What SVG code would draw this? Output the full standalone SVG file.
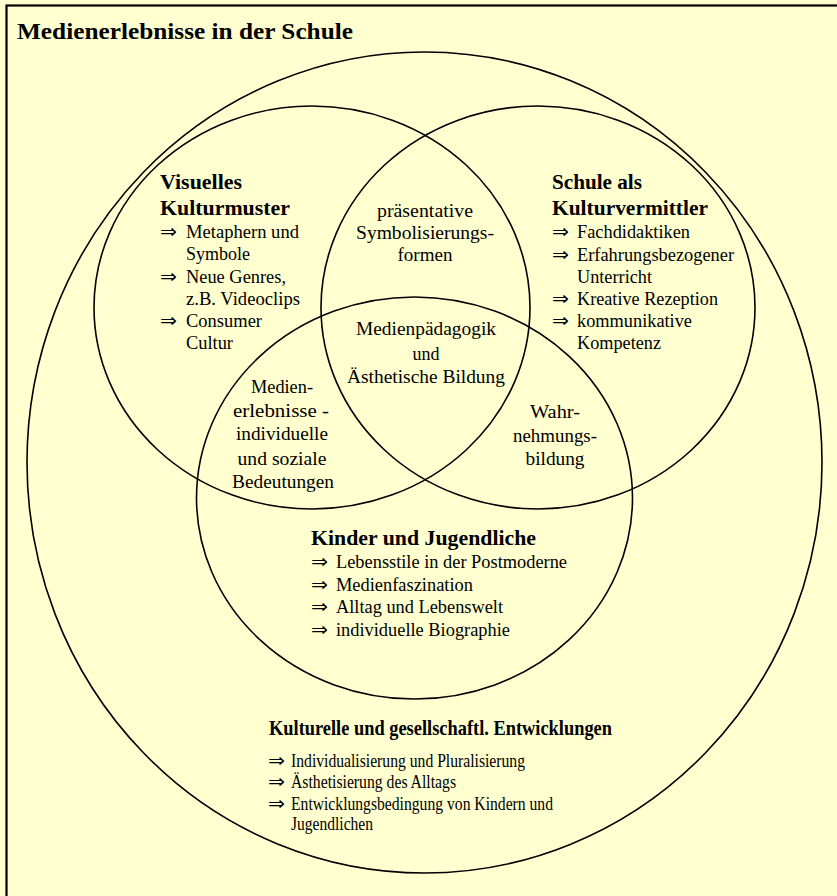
<svg xmlns="http://www.w3.org/2000/svg" width="837" height="896" viewBox="0 0 837 896">
<style>
.bg{fill:#FFFFD0}
.frame{fill:none;stroke:#000;stroke-width:2.2}
.ring{fill:none;stroke:#000;stroke-width:1.6}
text{font-family:"Liberation Serif","Times New Roman",serif;fill:#000}
.t{font-size:24px;font-weight:bold}
.h{font-size:20px;font-weight:bold}
.h2{font-size:21px;font-weight:bold}
.r{font-size:18.5px}
.s{font-size:19px}
.c{text-anchor:middle}
.a{font-family:"DejaVu Sans","Liberation Sans",sans-serif;font-size:19px}
</style>
<rect class="bg" x="0" y="0" width="837" height="896"/>
<rect class="frame" x="6.5" y="5.5" width="900" height="900"/>
<g id="title">
<text class="t" x="17" y="39" textLength="336" lengthAdjust="spacingAndGlyphs">Medienerlebnisse in der Schule</text>
</g>
<g id="gesellschaft">
<ellipse class="ring" cx="424.5" cy="462.5" rx="397.5" ry="410.5"/>
<text class="h2" x="269" y="735" textLength="343" lengthAdjust="spacingAndGlyphs">Kulturelle und gesellschaftl. Entwicklungen</text>
<text class="a" x="268" y="767" textLength="17" lengthAdjust="spacingAndGlyphs">⇒</text>
<text class="s" x="291" y="767" textLength="234" lengthAdjust="spacingAndGlyphs">Individualisierung und Pluralisierung</text>
<text class="a" x="268" y="788" textLength="17" lengthAdjust="spacingAndGlyphs">⇒</text>
<text class="s" x="291" y="788" textLength="165" lengthAdjust="spacingAndGlyphs">Ästhetisierung des Alltags</text>
<text class="a" x="268" y="810" textLength="17" lengthAdjust="spacingAndGlyphs">⇒</text>
<text class="s" x="291" y="810" textLength="262" lengthAdjust="spacingAndGlyphs">Entwicklungsbedingung von Kindern und</text>
<text class="s" x="291" y="830" textLength="82" lengthAdjust="spacingAndGlyphs">Jugendlichen</text>
</g>
<g id="visuelles">
<ellipse class="ring" cx="312" cy="307.5" rx="218" ry="201.5"/>
<text class="h" x="160" y="189" textLength="82" lengthAdjust="spacingAndGlyphs">Visuelles</text>
<text class="h" x="160" y="215" textLength="130" lengthAdjust="spacingAndGlyphs">Kulturmuster</text>
<text class="a" x="160" y="238" textLength="17" lengthAdjust="spacingAndGlyphs">⇒</text>
<text class="r" x="186" y="238" textLength="113" lengthAdjust="spacingAndGlyphs">Metaphern und</text>
<text class="r" x="186" y="260" textLength="64" lengthAdjust="spacingAndGlyphs">Symbole</text>
<text class="a" x="160" y="283" textLength="17" lengthAdjust="spacingAndGlyphs">⇒</text>
<text class="r" x="186" y="283" textLength="100" lengthAdjust="spacingAndGlyphs">Neue Genres,</text>
<text class="r" x="186" y="305" textLength="114" lengthAdjust="spacingAndGlyphs">z.B. Videoclips</text>
<text class="a" x="160" y="327" textLength="17" lengthAdjust="spacingAndGlyphs">⇒</text>
<text class="r" x="186" y="327" textLength="76" lengthAdjust="spacingAndGlyphs">Consumer</text>
<text class="r" x="186" y="349" textLength="47" lengthAdjust="spacingAndGlyphs">Cultur</text>
</g>
<g id="schule">
<ellipse class="ring" cx="538" cy="307.5" rx="217" ry="201.5"/>
<text class="h" x="552" y="189" textLength="90" lengthAdjust="spacingAndGlyphs">Schule als</text>
<text class="h" x="552" y="215" textLength="156" lengthAdjust="spacingAndGlyphs">Kulturvermittler</text>
<text class="a" x="552" y="238" textLength="17" lengthAdjust="spacingAndGlyphs">⇒</text>
<text class="r" x="577" y="238" textLength="113" lengthAdjust="spacingAndGlyphs">Fachdidaktiken</text>
<text class="a" x="552" y="261" textLength="17" lengthAdjust="spacingAndGlyphs">⇒</text>
<text class="r" x="577" y="261" textLength="157" lengthAdjust="spacingAndGlyphs">Erfahrungsbezogener</text>
<text class="r" x="577" y="283" textLength="75" lengthAdjust="spacingAndGlyphs">Unterricht</text>
<text class="a" x="552" y="305" textLength="17" lengthAdjust="spacingAndGlyphs">⇒</text>
<text class="r" x="577" y="305" textLength="141" lengthAdjust="spacingAndGlyphs">Kreative Rezeption</text>
<text class="a" x="552" y="327" textLength="17" lengthAdjust="spacingAndGlyphs">⇒</text>
<text class="r" x="577" y="327" textLength="115" lengthAdjust="spacingAndGlyphs">kommunikative</text>
<text class="r" x="577" y="349" textLength="84" lengthAdjust="spacingAndGlyphs">Kompetenz</text>
</g>
<g id="kinder">
<ellipse class="ring" cx="414.5" cy="498" rx="218" ry="201"/>
<text class="h" x="311" y="545" textLength="225" lengthAdjust="spacingAndGlyphs">Kinder und Jugendliche</text>
<text class="a" x="311" y="568" textLength="17" lengthAdjust="spacingAndGlyphs">⇒</text>
<text class="r" x="336" y="568" textLength="231" lengthAdjust="spacingAndGlyphs">Lebensstile in der Postmoderne</text>
<text class="a" x="311" y="591" textLength="17" lengthAdjust="spacingAndGlyphs">⇒</text>
<text class="r" x="336" y="591" textLength="137" lengthAdjust="spacingAndGlyphs">Medienfaszination</text>
<text class="a" x="311" y="613" textLength="17" lengthAdjust="spacingAndGlyphs">⇒</text>
<text class="r" x="336" y="613" textLength="167" lengthAdjust="spacingAndGlyphs">Alltag und Lebenswelt</text>
<text class="a" x="311" y="636" textLength="17" lengthAdjust="spacingAndGlyphs">⇒</text>
<text class="r" x="336" y="636" textLength="174" lengthAdjust="spacingAndGlyphs">individuelle Biographie</text>
</g>
<g id="praesentativ">
<text class="r c" x="425" y="217" textLength="96" lengthAdjust="spacingAndGlyphs">präsentative</text>
<text class="r c" x="425" y="239" textLength="138" lengthAdjust="spacingAndGlyphs">Symbolisierungs-</text>
<text class="r c" x="425" y="261" textLength="55" lengthAdjust="spacingAndGlyphs">formen</text>
</g>
<g id="medienpaedagogik">
<text class="r c" x="426" y="335" textLength="140" lengthAdjust="spacingAndGlyphs">Medienpädagogik</text>
<text class="r c" x="426" y="360" textLength="27" lengthAdjust="spacingAndGlyphs">und</text>
<text class="r c" x="426" y="383" textLength="158" lengthAdjust="spacingAndGlyphs">Ästhetische Bildung</text>
</g>
<g id="medienerlebnisse">
<text class="r c" x="282" y="393" textLength="62" lengthAdjust="spacingAndGlyphs">Medien-</text>
<text class="r c" x="281" y="417" textLength="96" lengthAdjust="spacingAndGlyphs">erlebnisse -</text>
<text class="r c" x="282" y="440" textLength="92" lengthAdjust="spacingAndGlyphs">individuelle</text>
<text class="r c" x="282" y="465" textLength="89" lengthAdjust="spacingAndGlyphs">und soziale</text>
<text class="r c" x="283" y="488" textLength="102" lengthAdjust="spacingAndGlyphs">Bedeutungen</text>
</g>
<g id="wahrnehmung">
<text class="r c" x="555" y="418" textLength="50" lengthAdjust="spacingAndGlyphs">Wahr-</text>
<text class="r c" x="555" y="442" textLength="84" lengthAdjust="spacingAndGlyphs">nehmungs-</text>
<text class="r c" x="555" y="465" textLength="59" lengthAdjust="spacingAndGlyphs">bildung</text>
</g>
</svg>
